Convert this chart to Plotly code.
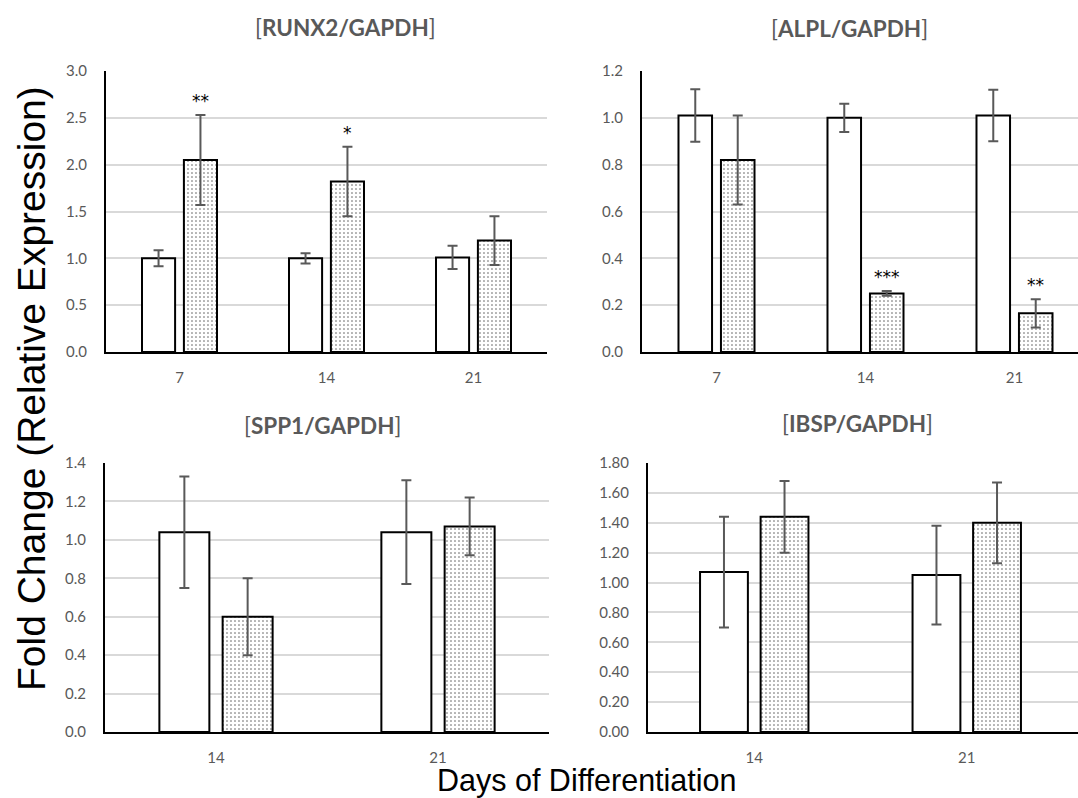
import plotly.graph_objects as go

W, H = 1078, 798

days_top = ["7", "14", "21"]
days_bottom = ["14", "21"]

runx2_ctrl = [1.00, 1.00, 1.01]
runx2_ctrl_err = [0.085, 0.055, 0.125]
runx2_trt = [2.05, 1.82, 1.19]
runx2_trt_err = [0.48, 0.37, 0.26]
runx2_sig = ["**", "*", ""]

alpl_ctrl = [1.01, 1.00, 1.01]
alpl_ctrl_err = [0.112, 0.06, 0.11]
alpl_trt = [0.82, 0.25, 0.165]
alpl_trt_err = [0.19, 0.01, 0.06]
alpl_sig = ["", "***", "**"]

spp1_ctrl = [1.04, 1.04]
spp1_ctrl_err = [0.29, 0.27]
spp1_trt = [0.60, 1.07]
spp1_trt_err = [0.20, 0.15]

ibsp_ctrl = [1.07, 1.05]
ibsp_ctrl_err = [0.37, 0.33]
ibsp_trt = [1.44, 1.40]
ibsp_trt_err = [0.24, 0.27]

panel_titles = ["RUNX2/GAPDH", "ALPL/GAPDH", "SPP1/GAPDH", "IBSP/GAPDH"]

BARGAP = 0.43
GROUPGAP = 0.21
GREY = "#595959"
TICKFONT = dict(family="Lato, Carlito, sans-serif", size=15, color=GREY)

fig = go.Figure()

panels = [
    (days_top, runx2_ctrl, runx2_ctrl_err, runx2_trt, runx2_trt_err, runx2_sig, "x", "y"),
    (days_top, alpl_ctrl, alpl_ctrl_err, alpl_trt, alpl_trt_err, alpl_sig, "x2", "y2"),
    (days_bottom, spp1_ctrl, spp1_ctrl_err, spp1_trt, spp1_trt_err, None, "x3", "y3"),
    (days_bottom, ibsp_ctrl, ibsp_ctrl_err, ibsp_trt, ibsp_trt_err, None, "x4", "y4"),
]

for cats, c, ce, t, te, sig, xa, ya in panels:
    fig.add_trace(go.Bar(
        x=cats, y=c, xaxis=xa, yaxis=ya, showlegend=False,
        marker=dict(color="white", line=dict(color="black", width=2)),
        error_y=dict(type="data", array=ce, color=GREY, thickness=2, width=5),
    ))
    fig.add_trace(go.Bar(
        x=cats, y=t, xaxis=xa, yaxis=ya, showlegend=False,
        marker=dict(color="white", line=dict(color="black", width=2),
                    pattern=dict(shape=".", fgcolor="#555555", bgcolor="white",
                                 size=4, solidity=0.12)),
        error_y=dict(type="data", array=te, color=GREY, thickness=2, width=5),
    ))
    if sig:
        slot = (1 - BARGAP) / 2
        for i, s in enumerate(sig):
            if s:
                fig.add_annotation(
                    x=i + slot / 2, y=t[i] + te[i], xref=xa, yref=ya,
                    text=s, showarrow=False, yanchor="bottom", yshift=2,
                    font=dict(family="DejaVu Sans, sans-serif", size=17, color="black"),
                )


def px(x):
    return x / W


def py(y):
    return 1 - y / H


top_y = [py(352), py(71)]
bot_y = [py(732), py(463)]

x_specs = {
    "xaxis": ([px(106), px(547)], [-0.5, 2.5], days_top),
    "xaxis2": ([px(642), 1.0], [-0.5, -0.5 + (W - 642) / 149.0], days_top),
    "xaxis3": ([px(105), px(549)], [-0.5, 1.5], days_bottom),
    "xaxis4": ([px(648), 1.0], [-0.5, -0.5 + (W - 648) / 212.5], days_bottom),
}
anchors = {"xaxis": "y", "xaxis2": "y2", "xaxis3": "y3", "xaxis4": "y4"}
for name, (dom, rng, cats) in x_specs.items():
    fig.layout[name] = dict(
        domain=dom, range=rng, type="category", anchor=anchors[name],
        categoryorder="array", categoryarray=cats, automargin=False,
        showgrid=False, zeroline=False, showline=True, linecolor="black",
        linewidth=2, ticks="", tickfont=TICKFONT, ticklabelstandoff=11,
        fixedrange=True,
    )

y_specs = {
    "yaxis": (top_y, [0, 3.0], 0.5, ".1f", "x"),
    "yaxis2": (top_y, [0, 1.2], 0.2, ".1f", "x2"),
    "yaxis3": (bot_y, [0, 1.4], 0.2, ".1f", "x3"),
    "yaxis4": (bot_y, [0, 1.8], 0.2, ".2f", "x4"),
}
for name, (dom, rng, dt, fmt, anc) in y_specs.items():
    fig.layout[name] = dict(
        domain=dom, range=rng, dtick=dt, tick0=0, tickformat=fmt, anchor=anc,
        automargin=False,
        showgrid=True, gridcolor="#d9d9d9", gridwidth=2, zeroline=False,
        showline=True, linecolor="black", linewidth=2, ticks="",
        tickfont=TICKFONT, ticklabelstandoff=14, fixedrange=True,
    )

title_pos = [(345, 27), (849, 29), (322, 425), (857, 423)]
for (tx, ty), name in zip(title_pos, panel_titles):
    fig.add_annotation(
        x=px(tx), y=py(ty), xref="paper", yref="paper", showarrow=False,
        xanchor="center", yanchor="middle",
        text=f"[<b>{name}</b>]",
        font=dict(family="Lato, Carlito, sans-serif", size=22.5, color=GREY),
    )

fig.add_annotation(
    x=px(31), y=py(389), xref="paper", yref="paper", showarrow=False,
    xanchor="center", yanchor="middle", textangle=-90,
    text="Fold Change (Relative Expression)",
    font=dict(family="Liberation Sans, Arial, sans-serif", size=39, color="black"),
)
fig.add_annotation(
    x=px(587), y=0, xref="paper", yref="paper", showarrow=False,
    xanchor="center", yanchor="bottom", yshift=-2,
    text="Days of Differentiation",
    font=dict(family="Liberation Sans, Arial, sans-serif", size=30.5, color="black"),
)

fig.update_layout(
    template="none",
    width=W, height=H, margin=dict(l=0, r=0, t=0, b=0, pad=0),
    paper_bgcolor="white", plot_bgcolor="white",
    barmode="group", bargap=BARGAP, bargroupgap=GROUPGAP,
    showlegend=False,
)

fig.write_html("out.html", config={"displayModeBar": False})
